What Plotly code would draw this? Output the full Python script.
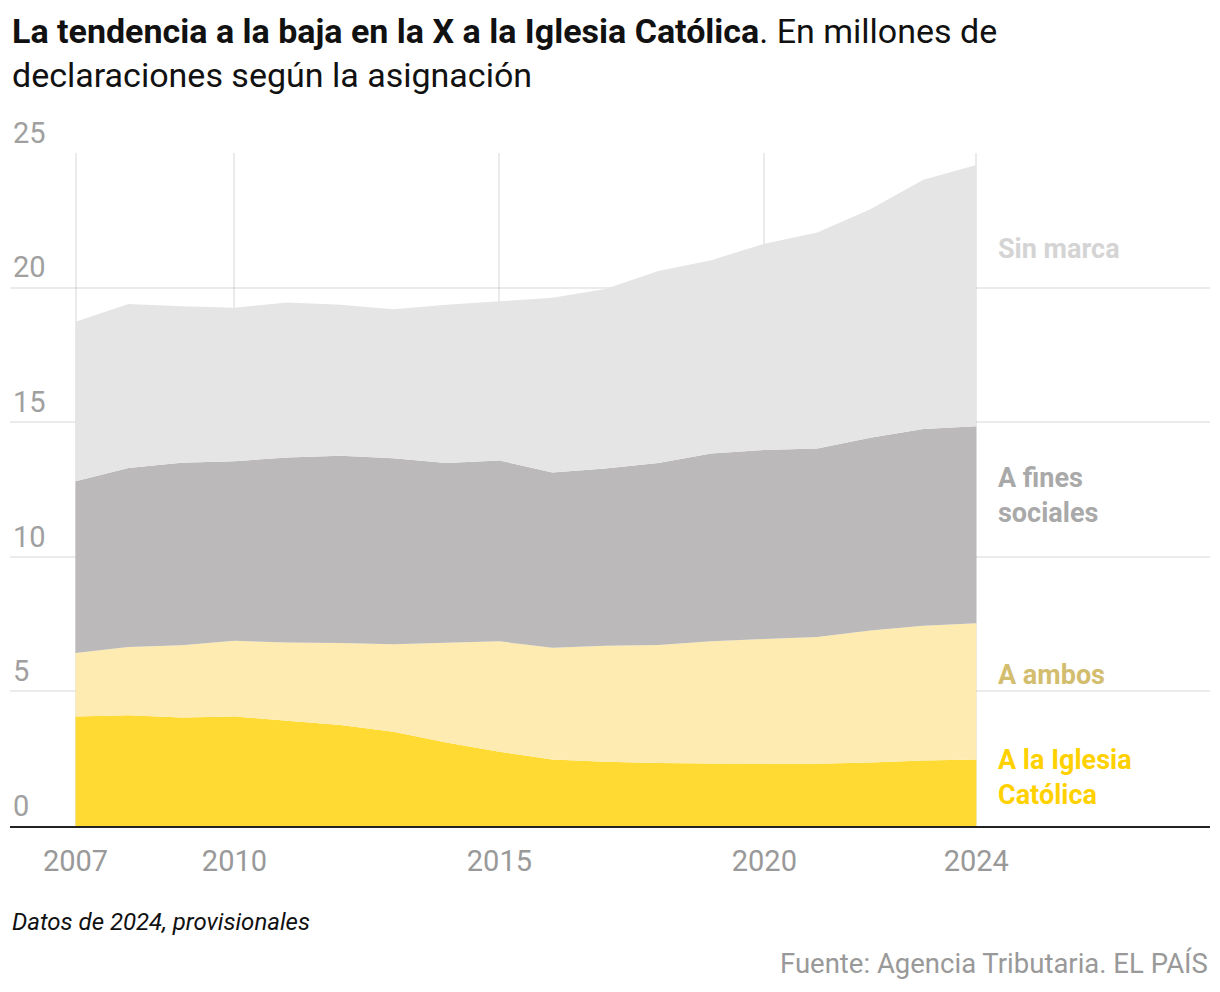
import plotly.graph_objects as go

years = list(range(2007, 2025))
catolica = [4.07, 4.11, 4.03, 4.07, 3.91, 3.75, 3.50, 3.10, 2.76, 2.47, 2.39, 2.34, 2.32, 2.31, 2.31, 2.36, 2.43, 2.47]
ambos = [2.36, 2.54, 2.68, 2.81, 2.91, 3.05, 3.25, 3.71, 4.10, 4.15, 4.31, 4.38, 4.54, 4.64, 4.71, 4.90, 5.01, 5.06]
fines = [6.38, 6.65, 6.78, 6.67, 6.87, 6.95, 6.91, 6.67, 6.72, 6.51, 6.58, 6.76, 6.98, 7.02, 7.00, 7.16, 7.31, 7.32]
sin_marca = [5.92, 6.09, 5.82, 5.70, 5.76, 5.61, 5.54, 5.88, 5.91, 6.49, 6.67, 7.14, 7.18, 7.66, 8.03, 8.49, 9.26, 9.70]

series_names = ["A la Iglesia Católica", "A ambos", "A fines sociales", "Sin marca"]
series_values = [catolica, ambos, fines, sin_marca]
fill_colors = ["#FFDA33", "#FEEBB1", "#BBB9BA", "#E5E5E5"]
label_texts = ["A la Iglesia<br>Católica", "A ambos", "A fines<br>sociales", "Sin marca"]
label_colors = ["#FFD100", "#D3BD6F", "#A9A9A9", "#D4D4D4"]
label_y = [1.79, 5.62, 12.27, 21.42]

x_ticks = [2007, 2010, 2015, 2020, 2024]
y_ticks = [0, 5, 10, 15, 20, 25]

FONT = "Roboto"

fig = go.Figure()
for name, vals, col in zip(series_names, series_values, fill_colors):
    fig.add_trace(go.Scatter(
        x=years, y=vals, name=name, stackgroup="one", mode="lines",
        line=dict(width=0, color=col), fillcolor=col, hoverinfo="skip",
    ))

for txt, col, yv in zip(label_texts, label_colors, label_y):
    fig.add_annotation(
        x=2024, y=yv, xref="x", yref="y", xanchor="left", yanchor="middle",
        xshift=20, text="<b>" + txt + "</b>", showarrow=False, align="left",
        font=dict(family=FONT, size=27, color=col),
    )

# title
fig.add_annotation(
    x=0, y=(826 - 9) / 673, xref="paper", yref="paper", xanchor="left", yanchor="top",
    text="<b>La tendencia a la baja en la X a la Iglesia Católica</b>. En millones de<br>declaraciones según la asignación",
    showarrow=False, align="left",
    font=dict(family=FONT, size=34, color="#111111"),
)
fig.add_annotation(
    x=0, y=-0.1427, xref="paper", yref="paper", xanchor="left", yanchor="middle",
    text="<i>Datos de 2024, provisionales</i>", showarrow=False,
    font=dict(family=FONT, size=24, color="#111111"),
)
fig.add_annotation(
    x=1, y=-0.2036, xref="paper", yref="paper", xanchor="right", yanchor="middle",
    text="Fuente: Agencia Tributaria. EL PAÍS", showarrow=False,
    font=dict(family=FONT, size=27.5, color="#999999"),
)

fig.update_layout(
    width=1220, height=992,
    margin=dict(l=10, r=10, t=153, b=166),
    paper_bgcolor="white", plot_bgcolor="white",
    showlegend=False,
    xaxis=dict(
        range=[2005.764, 2028.41], tickvals=x_ticks, ticktext=[str(v) for v in x_ticks],
        showgrid=True, gridcolor="rgba(0,0,0,0.08)", gridwidth=2, zeroline=False,
        showline=True, linecolor="#222222", linewidth=2,
        ticks="outside", ticklen=8, tickcolor="rgba(0,0,0,0)",
        tickfont=dict(family=FONT, size=29, color="#999999"),
        layer="above traces", fixedrange=True,
    ),
    yaxis=dict(
        range=[0, 25], tickvals=y_ticks, ticktext=[str(v) for v in y_ticks],
        showgrid=True, gridcolor="rgba(0,0,0,0.08)", gridwidth=2, zeroline=False,
        showline=False, ticklabelposition="inside top", ticklabeloverflow="allow",
        tickfont=dict(family=FONT, size=29, color="#A0A0A0"),
        layer="above traces", fixedrange=True,
    ),
)

fig.write_html("out.html")
